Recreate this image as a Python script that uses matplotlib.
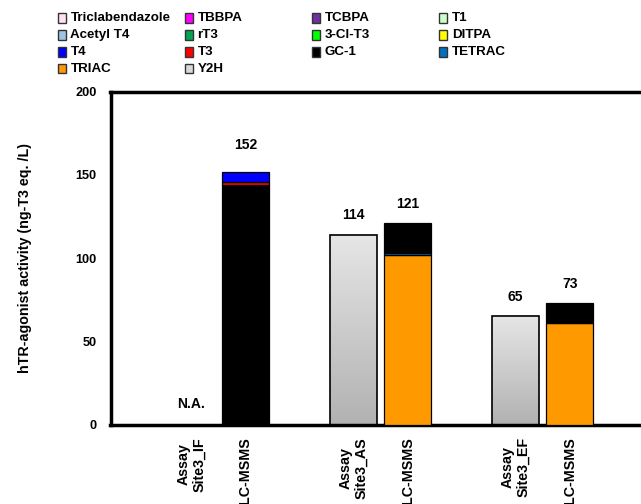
import matplotlib
matplotlib.use("Agg")
import matplotlib.pyplot as plt
from matplotlib.patches import Rectangle
from matplotlib.colors import LinearSegmentedColormap
import numpy as np

plt.rcParams['font.family'] = ['Liberation Sans', 'DejaVu Sans']
plt.rcParams['font.weight'] = 'bold'

# ---------------- data ----------------
legend_names = ["Triclabendazole", "TBBPA", "TCBPA", "T1",
                "Acetyl T4", "rT3", "3-Cl-T3", "DITPA",
                "T4", "T3", "GC-1", "TETRAC",
                "TRIAC", "Y2H"]
legend_colors = ["#ffe1f0", "#ff00ff", "#7030a0", "#ccffcc",
                 "#9dc3e6", "#00a650", "#00ff00", "#ffff00",
                 "#0000ff", "#ff0000", "#000000", "#0070c0",
                 "#ff9900", "#d9d9d9"]

tick_labels = ["Assay\nSite3_IF", "LC-MSMS",
               "Assay\nSite3_AS", "LC-MSMS",
               "Assay\nSite3_EF", "LC-MSMS"]
bar_pos = [0, 1, 3, 4, 6, 7]

# Assay (Y2H) totals; None = not available
assay_values = [None, 114, 65]
# LC-MSMS stacks (bottom to top) per site
lc_stacks = [
    [("GC-1", 144), ("T3", 2), ("T4", 6)],
    [("TRIAC", 102), ("TETRAC", 1), ("GC-1", 18)],
    [("TRIAC", 61), ("GC-1", 12)],
]
lc_totals = [152, 121, 73]

color_map = dict(zip(legend_names, legend_colors))

# ---------------- figure ----------------
W, H = 641, 504
fig = plt.figure(figsize=(W / 100, H / 100), dpi=100)
left_px, right_px, top_px, bot_px = 110.5, 641, 91.7, 424.5
ax = fig.add_axes([left_px / W, 1 - bot_px / H,
                   (right_px - left_px) / W, (bot_px - top_px) / H])

bw = 0.86
xlim = (-1.495, 8.32)
ylim = (0, 200)

grad = np.linspace(0, 1, 256).reshape(-1, 1)
gcmap = LinearSegmentedColormap.from_list("g", ["#b2b2b2", "#e6e6e6"])

vfs = 10
for i, v in enumerate(assay_values):
    x = bar_pos[2 * i]
    if v is None:
        ax.annotate("N.A.", (x, 0), xytext=(0, 15), textcoords="offset points",
                    ha="center", va="center", fontsize=vfs, fontweight="bold")
        continue
    ax.imshow(grad, extent=[x - bw / 2, x + bw / 2, 0, v], origin="lower",
              cmap=gcmap, aspect="auto", zorder=2)
    ax.add_patch(Rectangle((x - bw / 2, 0), bw, v, fill=False,
                           edgecolor="black", linewidth=1.2, zorder=3))
    ax.annotate(f"{v}", (x, v), xytext=(0, 14), textcoords="offset points",
                ha="center", va="center", fontsize=vfs, fontweight="bold")

for i, stack in enumerate(lc_stacks):
    x = bar_pos[2 * i + 1]
    bottom = 0
    for name, val in stack:
        ax.bar(x, val, bw, bottom=bottom, color=color_map[name],
               edgecolor="black", linewidth=0.9, zorder=3)
        bottom += val
    ax.annotate(f"{lc_totals[i]}", (x, bottom), xytext=(0, 14 if i else 19),
                textcoords="offset points", ha="center", va="center",
                fontsize=vfs, fontweight="bold")

ax.set_xlim(*xlim)
ax.set_ylim(*ylim)
ax.set_yticks([0, 50, 100, 150, 200])
ax.set_xticks(bar_pos)
ax.set_xticklabels(tick_labels, rotation=90, fontsize=10.3, fontweight="bold",
                   multialignment="center")
ax.tick_params(axis="both", length=0)
ax.tick_params(axis="y", pad=10)
ax.tick_params(axis="x", pad=9)
for lab in ax.get_yticklabels():
    lab.set_fontweight("bold")
    lab.set_fontsize(9.2)
for s in ["left", "bottom", "top"]:
    ax.spines[s].set_linewidth(2.5)
ax.spines["right"].set_visible(False)
ax.set_ylabel("hTR-agonist activity (ng-T3 eq. /L)", fontsize=10.3,
              fontweight="bold")
ax.yaxis.set_label_coords(-(left_px - 32) / (right_px - left_px), 0.5)

# ---------------- legend (manual grid) ----------------
col_x = [57.5, 184.5, 311.5, 439]
row_y = [18, 35, 52, 68.5]
for k, (name, col) in enumerate(zip(legend_names, legend_colors)):
    r, c = divmod(k, 4)
    x0, y0 = col_x[c], row_y[r]
    fig.patches.append(Rectangle((x0 / W, 1 - (y0 + 4.5) / H), 8 / W, 9 / H,
                                 transform=fig.transFigure, facecolor=col,
                                 edgecolor="#333333", linewidth=1.0))
    fig.text((x0 + 13) / W, 1 - y0 / H, name, fontsize=9.6,
             fontweight="bold", ha="left", va="center")

fig.savefig("out.png", dpi=100)
